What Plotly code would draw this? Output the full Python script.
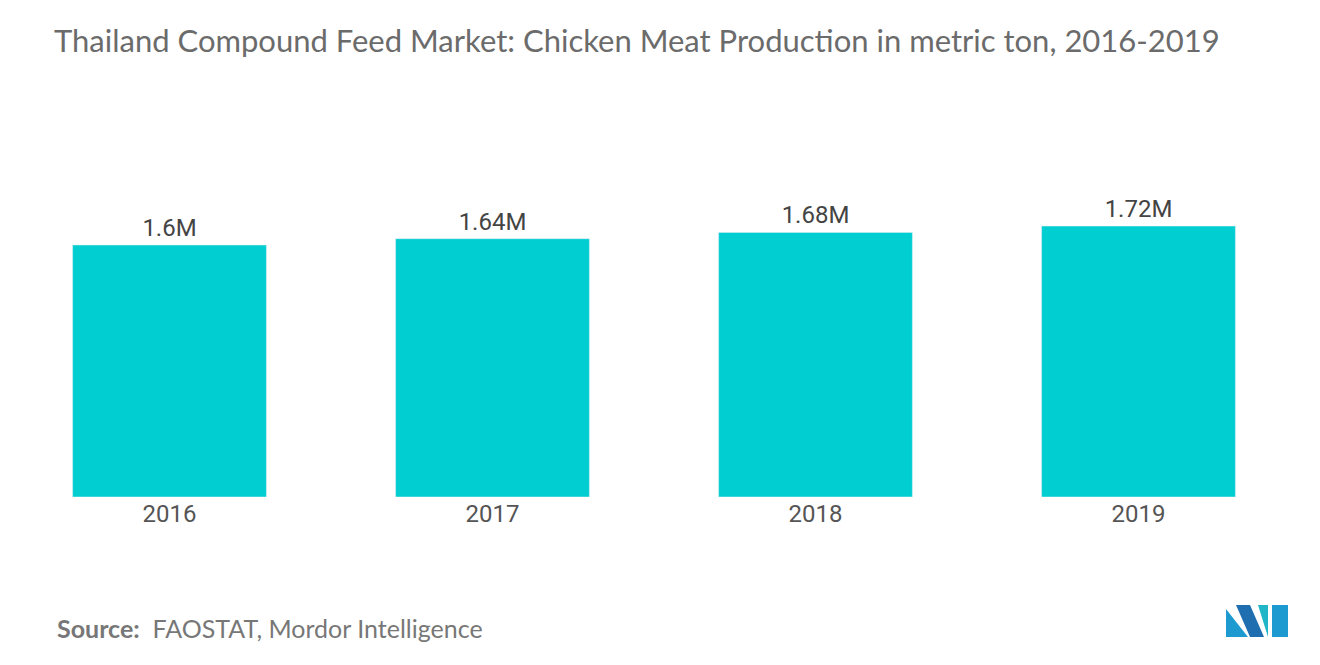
import plotly.graph_objects as go

years = ['2016', '2017', '2018', '2019']
production = [1.60, 1.64, 1.68, 1.72]  # million metric tons
labels = ['1.6M', '1.64M', '1.68M', '1.72M']

W, H = 1320, 665
# page renders figure offset by ~8px, 7px; work in figure coords
L, T, B = 0, 174, 176
PW = W - L - 28
PH = 315

fig = go.Figure(go.Bar(
    x=years, y=production,
    text=labels, textposition='outside',
    textfont=dict(size=24, color='#444444', family='Roboto'),
    marker=dict(color='#00CED1'),
    cliponaxis=False,
))

fig.update_layout(
    width=W, height=H,
    plot_bgcolor='white', paper_bgcolor='white',
    margin=dict(l=L, r=28, t=T, b=B),
    bargap=0.4,
    showlegend=False,
    font=dict(family='Roboto', color='#555555'),
    xaxis=dict(showline=False, showgrid=False, ticks='', tickfont=dict(size=24, color='#555555')),
    yaxis=dict(visible=False, range=[0, 2.0]),
    title=dict(text='Thailand Compound Feed Market: Chicken Meat Production in metric ton, 2016-2019',
               x=46 / W, xanchor='left', y=1 - 33 / H, yanchor='middle',
               font=dict(size=31, color='#6b6b6b', family='Lato')),
)

def px(xp, yp):
    # reference pixel -> paper coords
    return (xp - 8 - L) / PW, (489 - (yp - 7)) / PH

sx, sy = px(55, 627)
fig.add_annotation(xref='paper', yref='paper', x=sx, xanchor='left',
                   y=sy, yanchor='middle', showarrow=False,
                   text='<b>Source:</b>  FAOSTAT, Mordor Intelligence',
                   font=dict(size=25, color='#777777', family='Lato'))

def poly(pts, color):
    p = [px(a, b) for a, b in pts]
    path = 'M ' + ' L '.join(f'{a},{b}' for a, b in p) + ' Z'
    fig.add_shape(type='path', xref='paper', yref='paper', path=path,
                  fillcolor=color, line=dict(width=0))

# logo
poly([(1226, 636), (1226, 608), (1248, 636)], '#1d9bd1')
poly([(1236, 604), (1250, 604), (1264, 636), (1250, 636)], '#1f6fb0')
poly([(1258, 604), (1268, 604), (1268, 636)], '#20b6c8')
poly([(1272, 604), (1288, 604), (1288, 636), (1272, 636)], '#1d9bd1')

fig.write_html('out.html')
